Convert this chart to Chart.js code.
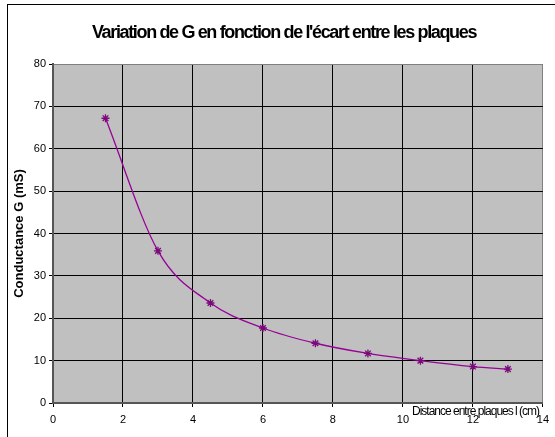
<!DOCTYPE html>
<html>
<head>
<meta charset="utf-8">
<script src="https://cdn.jsdelivr.net/npm/chart.js@4/dist/chart.umd.min.js"></script>
<style>
  html, body { margin: 0; padding: 0; background: #fff; }
  #wrap { width: 555px; height: 437px; }
</style>
</head>
<body>
<div id="wrap"><canvas id="c" width="555" height="437"></canvas></div>
<script>
// distance between plates (cm) and measured conductance (mS)
const distances = [1.5, 3, 4.5, 6, 7.5, 9, 10.5, 12, 13];
const conductance = [67.2, 35.9, 23.6, 17.7, 14.1, 11.7, 10.0, 8.6, 8.0];
const xTicks = [0, 2, 4, 6, 8, 10, 12, 14];
const yTicks = [0, 10, 20, 30, 40, 50, 60, 70, 80];

const titleText = "Variation de G en fonction de l'écart entre les plaques";
const yTitle = 'Conductance G (mS)';
const xTitle = 'Distance entre plaques l (cm)';

const points = distances.map((d, i) => ({ x: d, y: conductance[i] }));

// gray plot background, outer frame and the condensed texts
const excelLook = {
  id: 'excelLook',
  beforeDraw(chart) {
    const { ctx, chartArea: a } = chart;
    ctx.save();
    ctx.fillStyle = '#c0c0c0';
    ctx.fillRect(a.left, a.top, a.right - a.left, a.bottom - a.top);
    ctx.strokeStyle = '#000';
    ctx.lineWidth = 1;
    ctx.strokeRect(7.5, 4.5, 600, 500);
    ctx.restore();
  },
  afterDraw(chart) {
    const { ctx, chartArea: a } = chart;
    ctx.save();
    ctx.fillStyle = '#000';
    ctx.textBaseline = 'middle';

    // main title
    ctx.font = 'bold 18px "Liberation Sans", Arial, sans-serif';
    ctx.letterSpacing = '-1.35px';
    ctx.textAlign = 'center';
    ctx.fillText(titleText, 284, 33);

    // x axis title, sitting over the tick labels at the right
    ctx.font = '12px "Liberation Sans", Arial, sans-serif';
    ctx.letterSpacing = '-1px';
    ctx.textAlign = 'left';
    ctx.fillText(xTitle, 412, a.bottom + 9);

    // y axis title
    ctx.letterSpacing = '0px';
    ctx.translate(19, (a.top + a.bottom) / 2);
    ctx.rotate(-Math.PI / 2);
    ctx.textAlign = 'center';
    ctx.font = 'bold 13px "Liberation Sans", Arial, sans-serif';
    ctx.fillText(yTitle, 0, 0);
    ctx.restore();
  }
};

new Chart(document.getElementById('c'), {
  type: 'scatter',
  data: {
    datasets: [{
      data: points,
      showLine: true,
      borderColor: '#990099',
      borderWidth: 1.3,
      tension: 0.4,
      cubicInterpolationMode: 'monotone',
      pointStyle: 'star',
      pointRadius: 4,
      pointBorderColor: '#7a0a7a',
      pointBorderWidth: 1.3,
      pointBackgroundColor: '#7a0a7a'
    }]
  },
  options: {
    responsive: false,
    animation: false,
    layout: { padding: { left: 0, top: 64, right: 4, bottom: 0 } },
    plugins: {
      legend: { display: false },
      title: { display: false },
      tooltip: { enabled: false }
    },
    scales: {
      x: {
        type: 'linear',
        min: 0,
        max: 14,
        afterBuildTicks: s => { s.ticks = xTicks.map(v => ({ value: v })); },
        afterFit: s => { s.height = 34; },
        grid: {
          color: ctx => (ctx.tick && ctx.tick.value === 14 ? '#808080' : '#000'),
          tickColor: '#000',
          tickLength: 4,
          lineWidth: 1
        },
        border: { color: '#555', width: 2 },
        ticks: {
          color: '#000',
          padding: 6,
          maxRotation: 0,
          font: { family: '"Liberation Sans", Arial, sans-serif', size: 11 }
        }
      },
      y: {
        min: 0,
        max: 80,
        afterBuildTicks: s => { s.ticks = yTicks.map(v => ({ value: v })); },
        afterFit: s => { s.width = 53; },
        grid: {
          color: ctx => (ctx.tick && ctx.tick.value === 80 ? '#808080' : '#000'),
          tickColor: '#000',
          tickLength: 4,
          lineWidth: 1
        },
        border: { color: '#555', width: 2 },
        ticks: {
          color: '#000',
          padding: 3,
          font: { family: '"Liberation Sans", Arial, sans-serif', size: 11 }
        }
      }
    }
  },
  plugins: [excelLook]
});
</script>
</body>
</html>
